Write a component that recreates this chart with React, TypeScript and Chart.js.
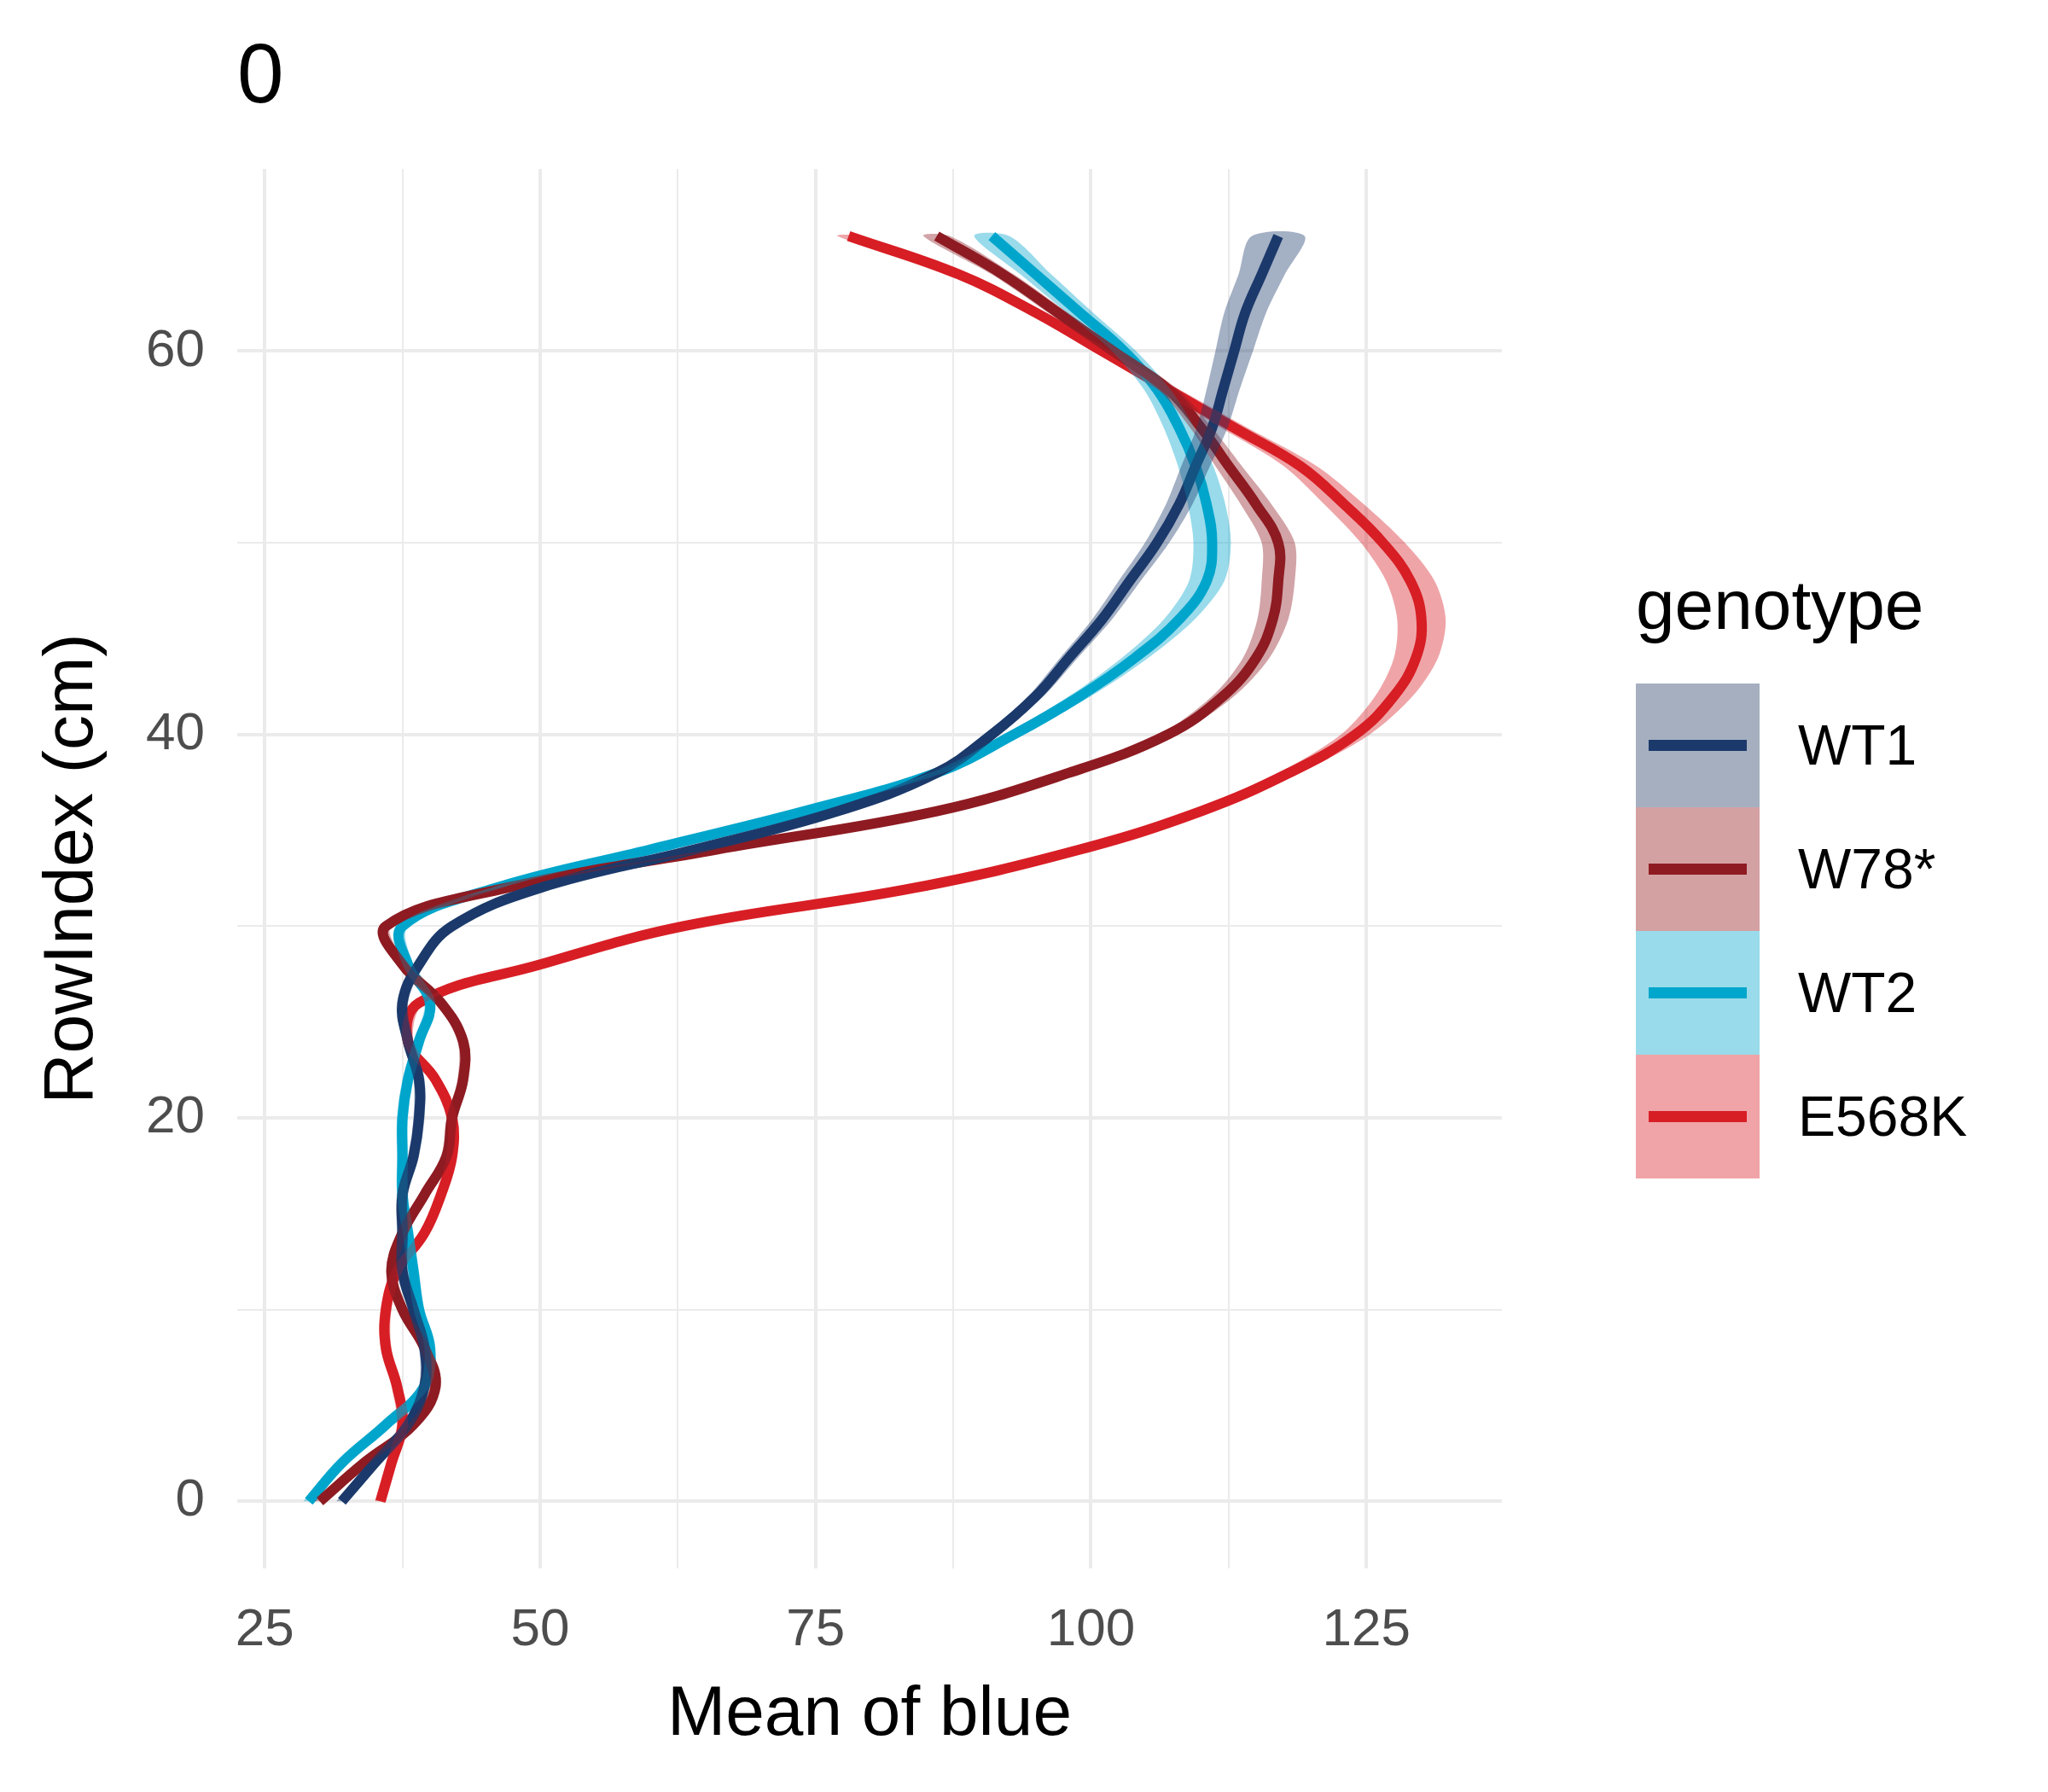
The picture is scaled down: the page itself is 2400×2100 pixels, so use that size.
import React, { useEffect, useRef } from "react";
import { Chart, registerables } from "chart.js";
Chart.register(...registerables);

const rowIndex = [0,2,4,6,8,10,12,14,16,18,20,22,24,26,28,30,32,34,36,38,40,42,44,46,48,50,52,54,56,58,60,62,64,66];
const wt1 = [32,35,38,39.5,39.5,38.5,37.5,37.5,37.5,38.5,39,39,38,37.5,39,42,50,64,77,86,91,95,98,101,103.5,106,108,109.5,111,112,113,114,115.5,117];
const wt1Se = [0.5,0.5,0.5,0.5,0.5,0.5,0.5,0.5,0.5,0.5,0.5,0.5,0.5,0.5,0.5,0.5,0.5,0.5,0.5,0.5,0.6,0.7,0.8,0.9,1,1.1,1.2,1.3,1.4,1.5,1.7,1.9,2.1,2.4];
const w78 = [30,34,38.5,40.5,39.5,37.5,36.5,37.5,39.5,41.5,42,43,43,41,37.5,36,47,66,86,98,107,112,115,116.5,117,117,115,112.5,110,107,102,97,92,86];
const w78Se = [0.5,0.5,0.5,0.5,0.5,0.5,0.5,0.5,0.5,0.5,0.5,0.5,0.5,0.5,0.5,0.5,0.5,0.5,0.5,0.6,0.8,1,1.2,1.4,1.5,1.5,1.4,1.2,1,0.9,0.8,0.9,1,1.2];
const wt2 = [29,32,36,39.5,40,39,38.5,38,37.5,37.5,37.5,38,39,40,38,37.5,46,60,74,86,93,99,104,108,110.5,111,110.5,109.5,108,106,103,99,95,91];
const wt2Se = [0.5,0.5,0.5,0.5,0.5,0.5,0.5,0.5,0.5,0.5,0.5,0.5,0.5,0.5,0.5,0.5,0.5,0.5,0.5,0.6,0.8,1,1.2,1.4,1.6,1.7,1.7,1.6,1.4,1.2,1.1,1.2,1.4,1.6];
const e568k = [35.5,36.5,37.5,37,36,36,37,39.5,41,42,42,40.5,38,39,50,63,84,99,110,118,124,127.5,129.5,130,129,126.5,123,119,113,107,101,95,88,78];
const e568kSe = [0.5,0.5,0.5,0.5,0.5,0.5,0.5,0.5,0.5,0.5,0.5,0.5,0.5,0.5,0.5,0.5,0.5,0.6,0.8,1,1.3,1.7,2,2.2,2.2,2,1.8,1.5,1.2,1,0.8,0.8,0.9,1];

const seriesNames = ["WT1", "W78*", "WT2", "E568K"];
const seriesValues = [wt1, w78, wt2, e568k];
const seriesSe = [wt1Se, w78Se, wt2Se, e568kSe];
const lineColors = ["#1b3a6b", "#8e1b22", "#00a6cc", "#d81e25"];
const ribbonColors = ["rgba(27,58,107,0.4)", "rgba(142,27,34,0.4)", "rgba(0,166,204,0.4)", "rgba(216,30,37,0.4)"];
const legendFill = ["#a5afc0", "#d4a1a3", "#99dbea", "#f0a4a7"];
const xTicks = [25, 37.5, 50, 62.5, 75, 87.5, 100, 112.5, 125];
const yTicks = [0, 10, 20, 30, 40, 50, 60];

const FONT = "Arimo, 'Liberation Sans', Arial, sans-serif";

export default function App() {
  const ref = useRef<HTMLCanvasElement>(null);
  useEffect(() => {
    const datasets: any[] = [];
    seriesValues.forEach((vals, i) => {
      const se = seriesSe[i];
      const lower = rowIndex.map((y, k) => ({ x: vals[k] - se[k], y }));
      const upper = rowIndex.map((y, k) => ({ x: vals[k] + se[k], y })).reverse();
      datasets.push({
        data: [...lower, ...upper],
        showLine: true, borderWidth: 0, pointRadius: 0, tension: 0.3,
        backgroundColor: ribbonColors[i], borderColor: "rgba(0,0,0,0)", fill: "shape",
      });
    });
    seriesValues.forEach((vals, i) => {
      datasets.push({
        label: seriesNames[i],
        data: rowIndex.map((y, k) => ({ x: vals[k], y })),
        showLine: true, borderWidth: 12, pointRadius: 0, tension: 0.4,
        borderColor: lineColors[i], fill: false,
      });
    });
    const gridW = (ctx: any, major: (v: number) => boolean) => (major(ctx.tick?.value) ? 4 : 2);
    const chart = new Chart(ref.current!, {
      type: "scatter",
      data: { datasets },
      options: {
        animation: false, responsive: false, devicePixelRatio: 1,
        layout: { padding: { left: 0, right: 640, top: 198, bottom: 0 } },
        plugins: { legend: { display: false }, tooltip: { enabled: false } },
        scales: {
          x: {
            type: "linear", min: 22.5, max: 137.3,
            border: { display: false },
            grid: { color: "#ebebeb", lineWidth: (c: any) => gridW(c, (v) => v % 25 === 0), drawTicks: false },
            ticks: { padding: 36, color: "#4d4d4d", font: { size: 62, family: FONT }, callback: (v: any) => (v % 25 === 0 ? String(v) : "") },
            afterBuildTicks: (s: any) => { s.ticks = xTicks.map((v) => ({ value: v })); },
            afterFit: (s: any) => { s.height = 262; },
            title: { display: true, text: "Mean of blue", color: "#000", font: { size: 82, family: FONT }, padding: { top: 0, bottom: 40 } },
          },
          y: {
            type: "linear", min: -3.5, max: 69.5,
            border: { display: false },
            grid: { color: "#ebebeb", lineWidth: (c: any) => gridW(c, (v) => v % 20 === 0), drawTicks: false },
            ticks: { padding: 38, color: "#4d4d4d", font: { size: 62, family: FONT }, callback: (v: any) => (v % 20 === 0 ? String(v) : "") },
            afterBuildTicks: (s: any) => { s.ticks = yTicks.map((v) => ({ value: v })); },
            afterFit: (s: any) => { s.width = 278; },
            title: { display: true, text: "RowIndex (cm)", color: "#000", font: { size: 82, family: FONT }, padding: { top: 36, bottom: 0 } },
          },
        },
      } as any,
    });
    return () => chart.destroy();
  }, []);
  return (
    <div style={{ position: "relative", width: 2400, height: 2100, margin: -8, background: "#fff", fontFamily: FONT }}>
      <canvas ref={ref} width={2400} height={2100} style={{ position: "absolute", left: 0, top: 0 }} />
      <div style={{ position: "absolute", left: 278, top: 30, fontSize: 98, color: "#000" }}>0</div>
      <div style={{ position: "absolute", left: 1917, top: 662, fontSize: 82, color: "#000" }}>genotype</div>
      {seriesNames.map((n, i) => (
        <div key={n} style={{ position: "absolute", left: 1917, top: 801 + i * 145, width: 700, height: 145 }}>
          <div style={{ position: "absolute", left: 0, top: 0, width: 145, height: 145, background: legendFill[i] }} />
          <div style={{ position: "absolute", left: 15, top: 66, width: 115, height: 13, background: lineColors[i] }} />
          <div style={{ position: "absolute", left: 190, top: 34, fontSize: 66, color: "#000", lineHeight: "76px" }}>{n}</div>
        </div>
      ))}
    </div>
  );
}
